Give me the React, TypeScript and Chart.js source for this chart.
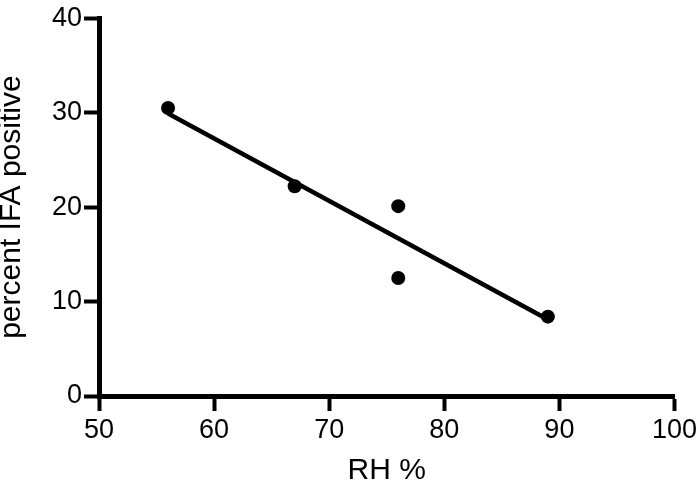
import React, { useEffect, useRef } from "react";
import { Chart, registerables } from "chart.js";

Chart.register(...registerables);

const rhValues = [56, 67, 76, 76, 89];
const ifaPositive = [30.5, 22.2, 20.1, 12.5, 8.4];
const fitX = [56, 89];
const fitY = [29.9, 8.1];
const xTicks = [50, 60, 70, 80, 90, 100];
const yTicks = [0, 10, 20, 30, 40];

export default function App() {
  const ref = useRef<HTMLCanvasElement | null>(null);

  useEffect(() => {
    if (!ref.current) return;
    const font = "'Liberation Sans', Arial, Helvetica, sans-serif";
    const chart = new Chart(ref.current, {
      type: "scatter",
      data: {
        datasets: [
          {
            label: "fit",
            data: fitX.map((x, i) => ({ x, y: fitY[i] })),
            showLine: true,
            borderColor: "#000",
            borderWidth: 4.5,
            pointRadius: 0,
            fill: false,
          },
          {
            label: "data",
            data: rhValues.map((x, i) => ({ x, y: ifaPositive[i] })),
            backgroundColor: "#000",
            borderColor: "#000",
            pointRadius: 7,
            pointBorderWidth: 0,
          },
        ],
      },
      options: {
        animation: false,
        responsive: false,
        maintainAspectRatio: false,
        layout: { padding: { top: 11, right: 23, left: 0, bottom: 0 } },
        plugins: { legend: { display: false }, tooltip: { enabled: false } },
        scales: {
          x: {
            type: "linear",
            min: 50,
            max: 100,
            afterBuildTicks: (s: any) => {
              s.ticks = xTicks.map((v) => ({ value: v }));
            },
            afterFit: (s: any) => {
              s.height = 86;
            },
            grid: {
              drawOnChartArea: false,
              drawTicks: true,
              tickLength: 15,
              tickWidth: 4,
              tickColor: "#000",
            },
            border: { display: true, color: "#000", width: 5 },
            ticks: {
              color: "#000",
              padding: 3,
              maxRotation: 0,
              autoSkip: false,
              font: { family: font, size: 27 },
            },
            title: {
              display: true,
              text: "RH %",
              color: "#000",
              font: { family: font, size: 30, lineHeight: 1 },
              padding: { top: 0, bottom: -4 },
            },
          },
          y: {
            type: "linear",
            min: 0,
            max: 40,
            afterBuildTicks: (s: any) => {
              s.ticks = yTicks.map((v) => ({ value: v }));
            },
            afterFit: (s: any) => {
              s.width = 99;
            },
            grid: {
              drawOnChartArea: false,
              drawTicks: true,
              tickLength: 15,
              tickWidth: 4,
              tickColor: "#000",
            },
            border: { display: true, color: "#000", width: 5 },
            ticks: {
              color: "#000",
              padding: 2,
              autoSkip: false,
              font: { family: font, size: 27 },
            },
            title: {
              display: true,
              text: "percent IFA positive",
              color: "#000",
              font: { family: font, size: 30, lineHeight: 1 },
              padding: { top: -3, bottom: 0 },
            },
          },
        },
      },
    });
    return () => chart.destroy();
  }, []);

  return (
    <div style={{ position: "absolute", left: 0, top: 0, width: 700, height: 482, background: "#fff" }}>
      <canvas ref={ref} width={700} height={482} style={{ display: "block", width: 700, height: 482 }} />
    </div>
  );
}
